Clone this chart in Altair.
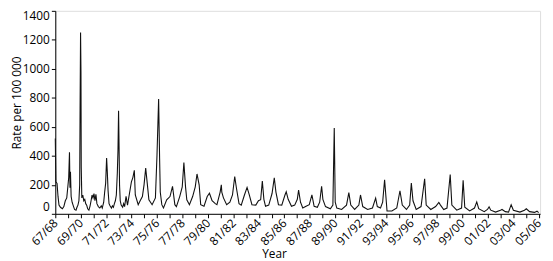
import json
import altair as alt
import pandas as pd

# Season index (0 = 67/68 tick, 1 = 68/69 tick, ...) and weekly-ish rate readings
SEASON_POS = [
    0.000, 0.046, 0.138, 0.214, 0.290, 0.405, 0.558, 0.672, 0.787, 0.901,
    0.978, 1.054, 1.115, 1.153, 1.192, 1.245, 1.322, 1.436, 1.513, 1.627,
    1.704, 1.780, 1.856, 1.917, 1.948, 1.986, 2.017, 2.040, 2.085, 2.162,
    2.238, 2.315, 2.391, 2.467, 2.544, 2.643, 2.735, 2.811, 2.888, 2.964,
    3.040, 3.117, 3.193, 3.270, 3.384, 3.499, 3.613, 3.690, 3.804, 3.881,
    3.957, 4.033, 4.087, 4.148, 4.224, 4.301, 4.415, 4.492, 4.568, 4.644,
    4.721, 4.797, 4.874, 4.927, 4.973, 5.011, 5.049, 5.103, 5.179, 5.294,
    5.370, 5.447, 5.561, 5.676, 5.829, 5.981, 6.096, 6.211, 6.287, 6.516,
    6.669, 6.845, 6.975, 7.105, 7.227, 7.357, 7.609, 7.869, 7.991, 8.121,
    8.197, 8.250, 8.372, 8.502, 8.754, 9.014, 9.213, 9.396, 9.518, 9.778,
    9.977, 10.106, 10.236, 10.336, 10.542, 10.794, 11.000, 11.137, 11.306, 11.428,
    11.688, 11.940, 12.116, 12.322, 12.574, 12.704, 12.956, 13.048, 13.086, 13.216,
    13.468, 13.720, 13.926, 14.102, 14.232, 14.439, 14.614, 14.866, 15.072, 15.247,
    15.454, 15.759, 15.966, 16.141, 16.271, 16.393, 16.523, 16.775, 17.035, 17.210,
    17.340, 17.539, 17.799, 18.051, 18.150, 18.303, 18.563, 18.815, 19.021, 19.121,
    19.273, 19.449, 19.709, 19.961, 20.167, 20.343, 20.595, 20.778, 20.931, 21.030,
    21.236, 21.618, 21.817, 21.924, 22.000, 22.123, 22.505, 22.887, 23.070, 23.223,
    23.528, 23.857, 23.987, 24.163, 24.545, 24.927, 25.178, 25.308, 25.560, 25.728,
    25.881, 26.019, 26.072, 26.454, 26.836, 27.088, 27.271, 27.600, 27.852, 27.982,
    28.112, 28.364, 28.746, 29.028, 29.151, 29.510, 29.890, 30.143, 30.273, 30.525,
    30.785, 31.037, 31.166, 31.549, 31.931, 32.053, 32.183, 32.565, 32.947, 33.123,
    33.276, 33.711, 33.963, 34.093, 34.223, 34.605, 34.987, 35.109, 35.369, 35.621,
    35.827, 36.003, 36.515, 36.873, 37.018, 37.278, 37.660, 37.858, 37.988,
]
RATE = [
    520, 220, 210, 120, 60, 45, 35, 50, 90, 110,
    180, 250, 425, 180, 290, 120, 80, 50, 30, 25,
    45, 60, 90, 200, 730, 1250, 980, 320, 110, 130,
    90, 100, 70, 60, 35, 25, 55, 90, 130, 110,
    140, 90, 135, 70, 50, 40, 55, 40, 80, 150,
    210, 385, 290, 160, 70, 55, 40, 55, 45, 70,
    90, 130, 280, 440, 710, 470, 200, 90, 60, 45,
    70, 50, 120, 60, 140, 220, 250, 300, 130, 63,
    90, 119, 200, 315, 210, 97, 63, 110, 400, 792,
    386, 150, 63, 40, 97, 119, 190, 63, 50, 119,
    186, 353, 186, 97, 63, 119, 186, 275, 200, 63,
    52, 119, 142, 90, 70, 63, 150, 200, 150, 110,
    63, 80, 130, 257, 180, 70, 60, 130, 182, 130,
    63, 60, 90, 97, 226, 100, 52, 60, 140, 249,
    150, 63, 60, 130, 152, 100, 52, 60, 100, 164,
    80, 40, 52, 63, 130, 52, 45, 80, 190, 100,
    50, 35, 60, 592, 80, 40, 30, 60, 146, 60,
    30, 60, 130, 50, 30, 40, 108, 50, 40, 80,
    235, 80, 19, 20, 40, 159, 60, 30, 60, 213,
    90, 30, 50, 242, 60, 30, 50, 79, 60, 30,
    40, 271, 60, 25, 40, 232, 45, 20, 40, 82,
    35, 15, 30, 48, 25, 12, 25, 30, 15, 12,
    63, 25, 12, 25, 35, 15, 10, 18, 8,
]

SEASONS = [
    "67/68", "68/69", "69/70", "70/71", "71/72", "72/73", "73/74", "74/75",
    "75/76", "76/77", "77/78", "78/79", "79/80", "80/81", "81/82", "82/83",
    "83/84", "84/85", "85/86", "86/87", "87/88", "88/89", "89/90", "90/91",
    "91/92", "92/93", "93/94", "94/95", "95/96", "96/97", "97/98", "98/99",
    "99/00", "00/01", "01/02", "02/03", "03/04", "04/05", "05/06",
]
Y_TICKS = [0, 200, 400, 600, 800, 1000, 1200, 1400]

df = pd.DataFrame({"season": SEASON_POS, "rate": RATE})

label_expr = (
    "datum.value % 2 == 0 ? " + json.dumps(SEASONS) + "[round(datum.value)] : ''"
)

FONT = "Open Sans"

chart = (
    alt.Chart(df)
    .mark_line(color="#111111", strokeWidth=1.1)
    .encode(
        x=alt.X(
            "season:Q",
            scale=alt.Scale(domain=[0, 38.1], nice=False, zero=False),
            axis=alt.Axis(
                values=list(range(len(SEASONS))),
                labelExpr=label_expr,
                labelAngle=-45,
                labelAlign="right",
                labelBaseline="middle",
                labelPadding=3,
                labelFlush=False,
                labelOverlap=False,
                labelFontSize=12,
                labelFont=FONT,
                labelColor="#000000",
                tickSize=4,
                tickColor="#000000",
                domainColor="#000000",
                grid=False,
                title="Year",
                titleFont=FONT,
                titleFontSize=12,
                titleFontWeight="normal",
                titleColor="#000000",
                titleX=222,
                titleY=44,
                titleAlign="center",
                titleBaseline="alphabetic",
            ),
        ),
        y=alt.Y(
            "rate:Q",
            scale=alt.Scale(domain=[0, 1400], nice=False),
            axis=alt.Axis(
                values=Y_TICKS,
                format="d",
                labelFlush=True,
                labelFontSize=12,
                labelFont=FONT,
                labelColor="#000000",
                labelPadding=2,
                tickSize=4,
                tickColor="#000000",
                domainColor="#000000",
                grid=False,
                title="Rate per 100 000",
                titleFont=FONT,
                titleFontSize=12,
                titleFontWeight="normal",
                titleColor="#000000",
                titleAngle=-90,
                titleX=-35,
                titleY=93,
                titleAlign="center",
                titleBaseline="alphabetic",
            ),
        ),
    )
    .properties(
        width=492,
        height=206,
        autosize=alt.AutoSizeParams(type="none"),
        padding={"left": 48, "top": 1, "right": 5, "bottom": 46},
    )
    .configure_view(stroke=None)
    .configure(background="white")
)

chart.save("out.html", embed_options={"renderer": "svg", "actions": False})
